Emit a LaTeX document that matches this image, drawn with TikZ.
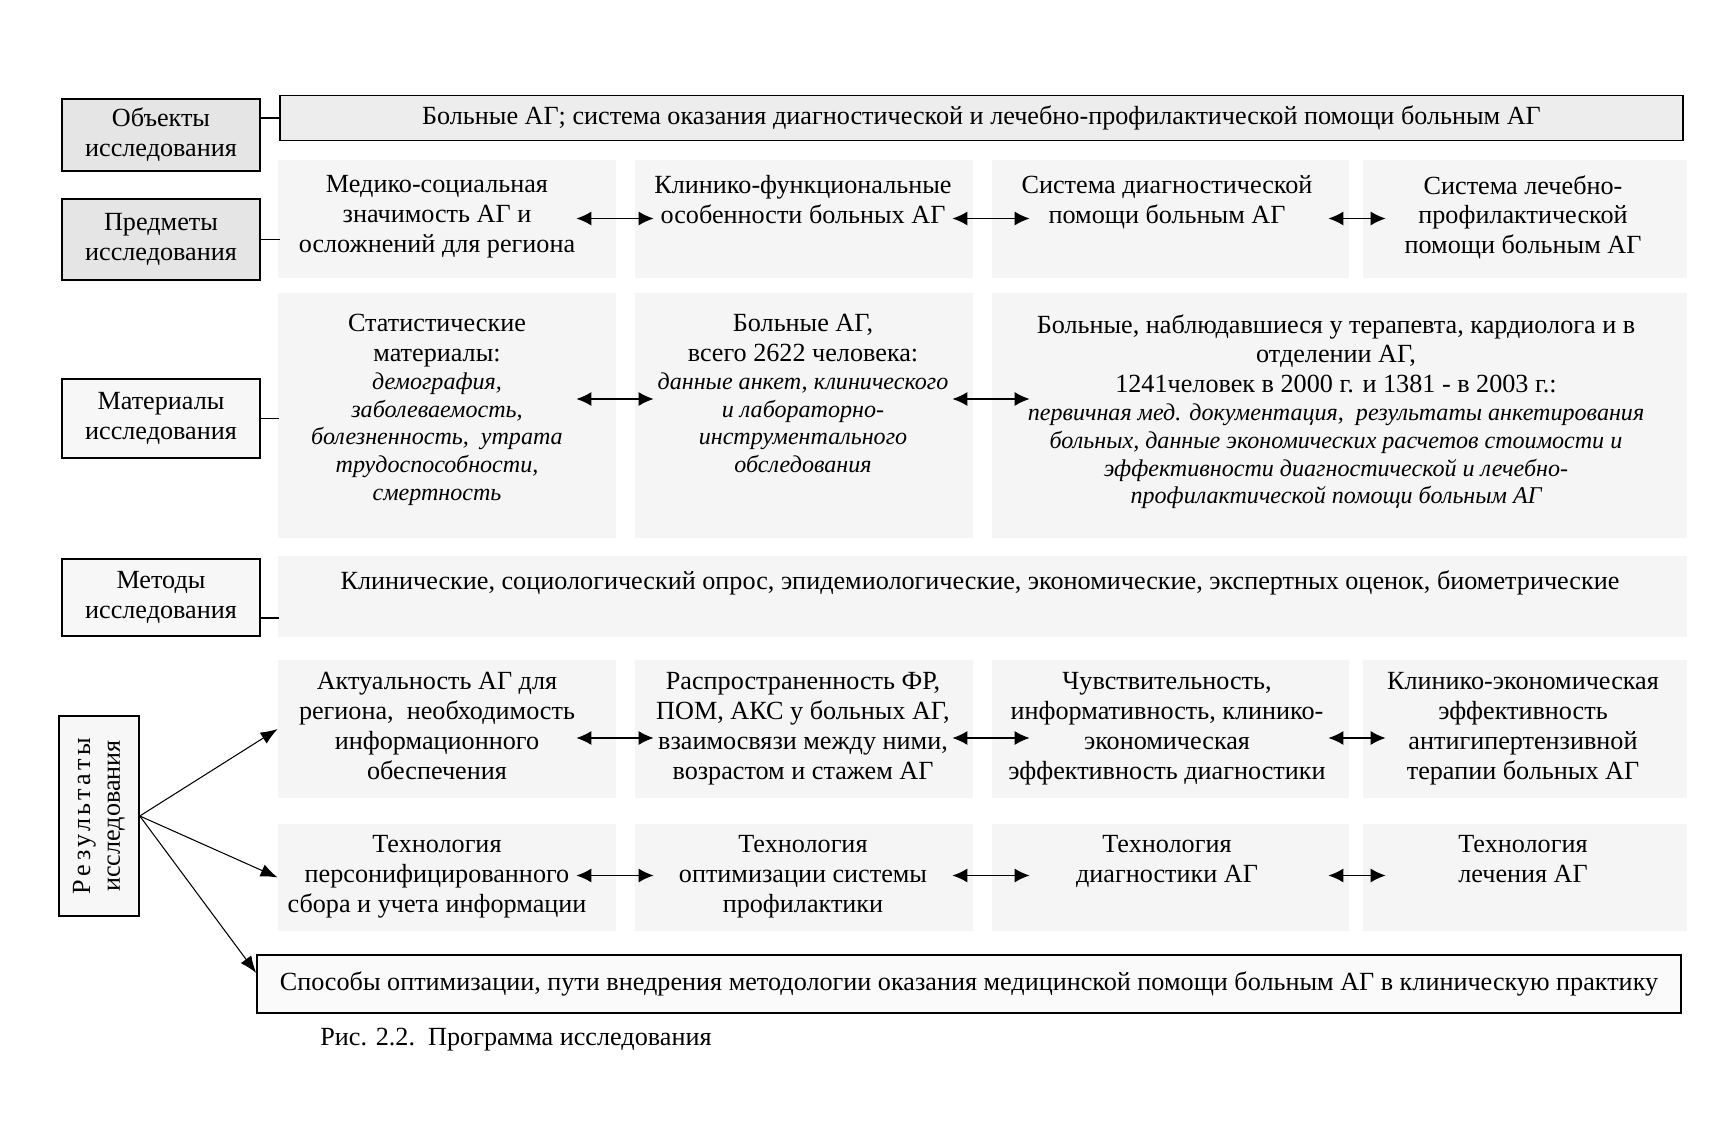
\documentclass[tikz,border=0pt]{standalone}
\usepackage{fontspec}
\setmainfont{Liberation Serif}
\newfontfamily\spaced[LetterSpace=14]{Liberation Serif}
\usetikzlibrary{arrows.meta,positioning}
\newcommand{\itsm}{\itshape\fontsize{13.7}{15.8}\selectfont}

\begin{document}
\begin{tikzpicture}[font=\fontsize{14.9}{17}\selectfont,>={Latex[length=3mm,width=2.8mm]},
  lbl/.style={draw,line width=.9pt,fill=black!3,minimum width=3.96cm,align=center,inner sep=2pt},
  panel/.style={fill=black!4,inner sep=0pt},
  cell/.style={anchor=north,align=flush center,inner ysep=0pt},
  col1/.style={cell,text width=6.6cm,inner xsep=-.52cm},
  col2/.style={cell,text width=6.6cm,inner xsep=-.32cm},
  col3/.style={cell,text width=6.8cm,inner xsep=-.66cm},
  col4/.style={cell,text width=6.4cm,inner xsep=-.46cm},
  dbl/.style={<->,thick}]
\useasboundingbox (0,0) rectangle (34.28,-22.84);
\fill[white] (0,0) rectangle (34.28,-22.84);

\node[panel,minimum width=6.76cm,minimum height=2.36cm] (sp1) at (8.94,-4.38){};
\node[panel,minimum width=6.76cm,minimum height=2.36cm] (sp2) at (16.08,-4.38){};
\node[panel,minimum width=7.14cm,minimum height=2.36cm] (sp3) at (23.41,-4.38){};
\node[panel,minimum width=6.48cm,minimum height=2.36cm] (sp4) at (30.5,-4.38){};
\node[panel,minimum width=6.76cm,minimum height=4.9cm] (sm1) at (8.94,-8.31){};
\node[panel,minimum width=6.76cm,minimum height=4.9cm] (sm2) at (16.08,-8.31){};
\node[panel,minimum width=13.9cm,minimum height=4.9cm] (sm3) at (26.79,-8.31){};
\node[panel,minimum width=28.18cm,minimum height=1.62cm] (sx) at (19.65,-11.93){};
\node[panel,minimum width=6.76cm,minimum height=2.76cm] (sa1) at (8.94,-14.58){};
\node[panel,minimum width=6.76cm,minimum height=2.76cm] (sa2) at (16.08,-14.58){};
\node[panel,minimum width=7.14cm,minimum height=2.76cm] (sa3) at (23.41,-14.58){};
\node[panel,minimum width=6.48cm,minimum height=2.76cm] (sa4) at (30.5,-14.58){};
\node[panel,minimum width=6.76cm,minimum height=2.14cm] (sb1) at (8.94,-17.55){};
\node[panel,minimum width=6.76cm,minimum height=2.14cm] (sb2) at (16.08,-17.55){};
\node[panel,minimum width=7.14cm,minimum height=2.14cm] (sb3) at (23.41,-17.55){};
\node[panel,minimum width=6.48cm,minimum height=2.14cm] (sb4) at (30.5,-17.55){};

\node[lbl,fill=black!10,minimum height=1.44cm] (obj) at (3.22,-2.7){Объекты\\ исследования};
\node[lbl,fill=black!10,minimum height=1.62cm] (pred) at (3.22,-4.79){Предметы\\ исследования};
\node[lbl,minimum height=1.58cm] (mat) at (3.22,-8.37){Материалы\\ исследования};
\node[lbl,minimum height=1.54cm] (meth) at (3.22,-11.95){Методы\\ исследования};
\node[lbl,minimum width=1.6cm,minimum height=4cm] (res) at (1.98,-16.32){};
\node[rotate=90,align=center] (restxt) at (res){{\spaced Результаты}\\ исследования};

\node[draw,line width=.9pt,fill=black!7,minimum width=28.06cm,minimum height=.9cm] (top) at (19.63,-2.36)
  {Больные АГ; система оказания диагностической и лечебно-профилактической помощи больным АГ};
\node[draw,line width=.9pt,fill=black!2,minimum width=28.48cm,minimum height=1.16cm] (bot) at (19.38,-19.68)
  {Способы оптимизации, пути внедрения методологии оказания медицинской помощи больным АГ в клиническую практику};

\node[col1] (p1) at (8.74,-3.5){Медико-социальная\\ значимость АГ и\\ осложнений для региона};
\node[col2] (p2) at (16.06,-3.5){Клинико-функциональные\\ особенности больных АГ};
\node[col3] (p3) at (23.34,-3.5){Система диагностической\\ помощи больным АГ};
\node[col4] (p4) at (30.46,-3.5){Система лечебно-\\ профилактической\\ помощи больным АГ};

\node[col1] (m1) at (8.74,-6.28){Статистические\\ материалы:\par
  {\itsm демография,\\ заболеваемость,\\ болезненность,\ \ утрата\\ трудоспособности,\\ смертность\par}};
\node[col2] (m2) at (16.06,-6.28){Больные АГ,\\ всего 2622 человека:\par
  {\itsm данные анкет, клинического\\ и лабораторно-\\ инструментального\\ обследования\par}};
\node[cell,text width=13.2cm,inner xsep=-.48cm] (m3) at (26.72,-6.28){Больные, наблюдавшиеся у терапевта, кардиолога и в\\ отделении АГ,\\ 1241человек в 2000 г. и 1381 - в 2003 г.:\par
  {\itsm первичная мед. документация,\ \ результаты анкетирования\\ больных, данные экономических расчетов стоимости и\\ эффективности диагностической и лечебно-\\ профилактической помощи больным АГ\par}};

\node (x1) at (19.6,-11.66){Клинические, социологический опрос, эпидемиологические, экономические, экспертных оценок, биометрические};

\node[col1] (a1) at (8.74,-13.44){Актуальность АГ для\\ региона,\ \ необходимость\\ информационного\\ обеспечения};
\node[col2] (a2) at (16.06,-13.44){Распространенность ФР,\\ ПОМ, АКС у больных АГ,\\ взаимосвязи между ними,\\ возрастом и стажем АГ};
\node[col3] (a3) at (23.34,-13.44){Чувствительность,\\ информативность, клинико-\\ экономическая\\ эффективность диагностики};
\node[col4] (a4) at (30.46,-13.44){Клинико-экономическая\\ эффективность\\ антигипертензивной\\ терапии больных АГ};

\node[col1] (b1) at (8.74,-16.7){Технология\\ персонифицированного\\ сбора и учета информации};
\node[col2] (b2) at (16.06,-16.7){Технология\\ оптимизации системы\\ профилактики};
\node[col3] (b3) at (23.34,-16.7){Технология\\ диагностики АГ};
\node[col4] (b4) at (30.46,-16.7){Технология\\ лечения АГ};

\node[anchor=west,inner sep=0pt] (cap) at (6.4,-20.8){Рис. 2.2.\ \ Программа исследования};

\coordinate (rowp) at (0,-4.37);
\coordinate (rowm) at (0,-7.98);
\coordinate (rowa) at (0,-14.76);
\coordinate (rowb) at (0,-17.51);
\coordinate (predend) at (5.6,-4.79);
\coordinate (matend) at (5.58,-8.37);
\coordinate (methend) at (5.58,-12.36);

\draw[line width=.9pt] (obj.east|-top.west) -- (top.west);
\draw[line width=.9pt] (pred.east) -- (predend);
\draw[line width=.9pt] (mat.east) -- (matend);
\draw[line width=.9pt] (meth.east|-methend) -- (methend);

\draw[dbl] (p1.east|-rowp) -- (p2.west|-rowp);
\draw[dbl] (p2.east|-rowp) -- (p3.west|-rowp);
\draw[dbl,shorten <=.48cm] (p3.east|-rowp) -- (p4.west|-rowp);
\draw[dbl] (m1.east|-rowm) -- (m2.west|-rowm);
\draw[dbl] (m2.east|-rowm) -- (m3.west|-rowm);
\draw[dbl] (a1.east|-rowa) -- (a2.west|-rowa);
\draw[dbl] (a2.east|-rowa) -- (a3.west|-rowa);
\draw[dbl,shorten <=.48cm] (a3.east|-rowa) -- (a4.west|-rowa);
\draw[dbl] (b1.east|-rowb) -- (b2.west|-rowb);
\draw[dbl] (b2.east|-rowb) -- (b3.west|-rowb);
\draw[dbl,shorten <=.48cm] (b3.east|-rowb) -- (b4.west|-rowb);

\draw[-{Latex[length=3.4mm,width=2.6mm]},semithick] (res.east) -- (sa1.west);
\draw[-{Latex[length=3.4mm,width=2.6mm]},semithick] (res.east) -- (sb1.west);
\draw[-{Latex[length=3.4mm,width=2.6mm]},semithick] (res.east) -- ([yshift=.22cm]bot.west);
\end{tikzpicture}
\end{document}
